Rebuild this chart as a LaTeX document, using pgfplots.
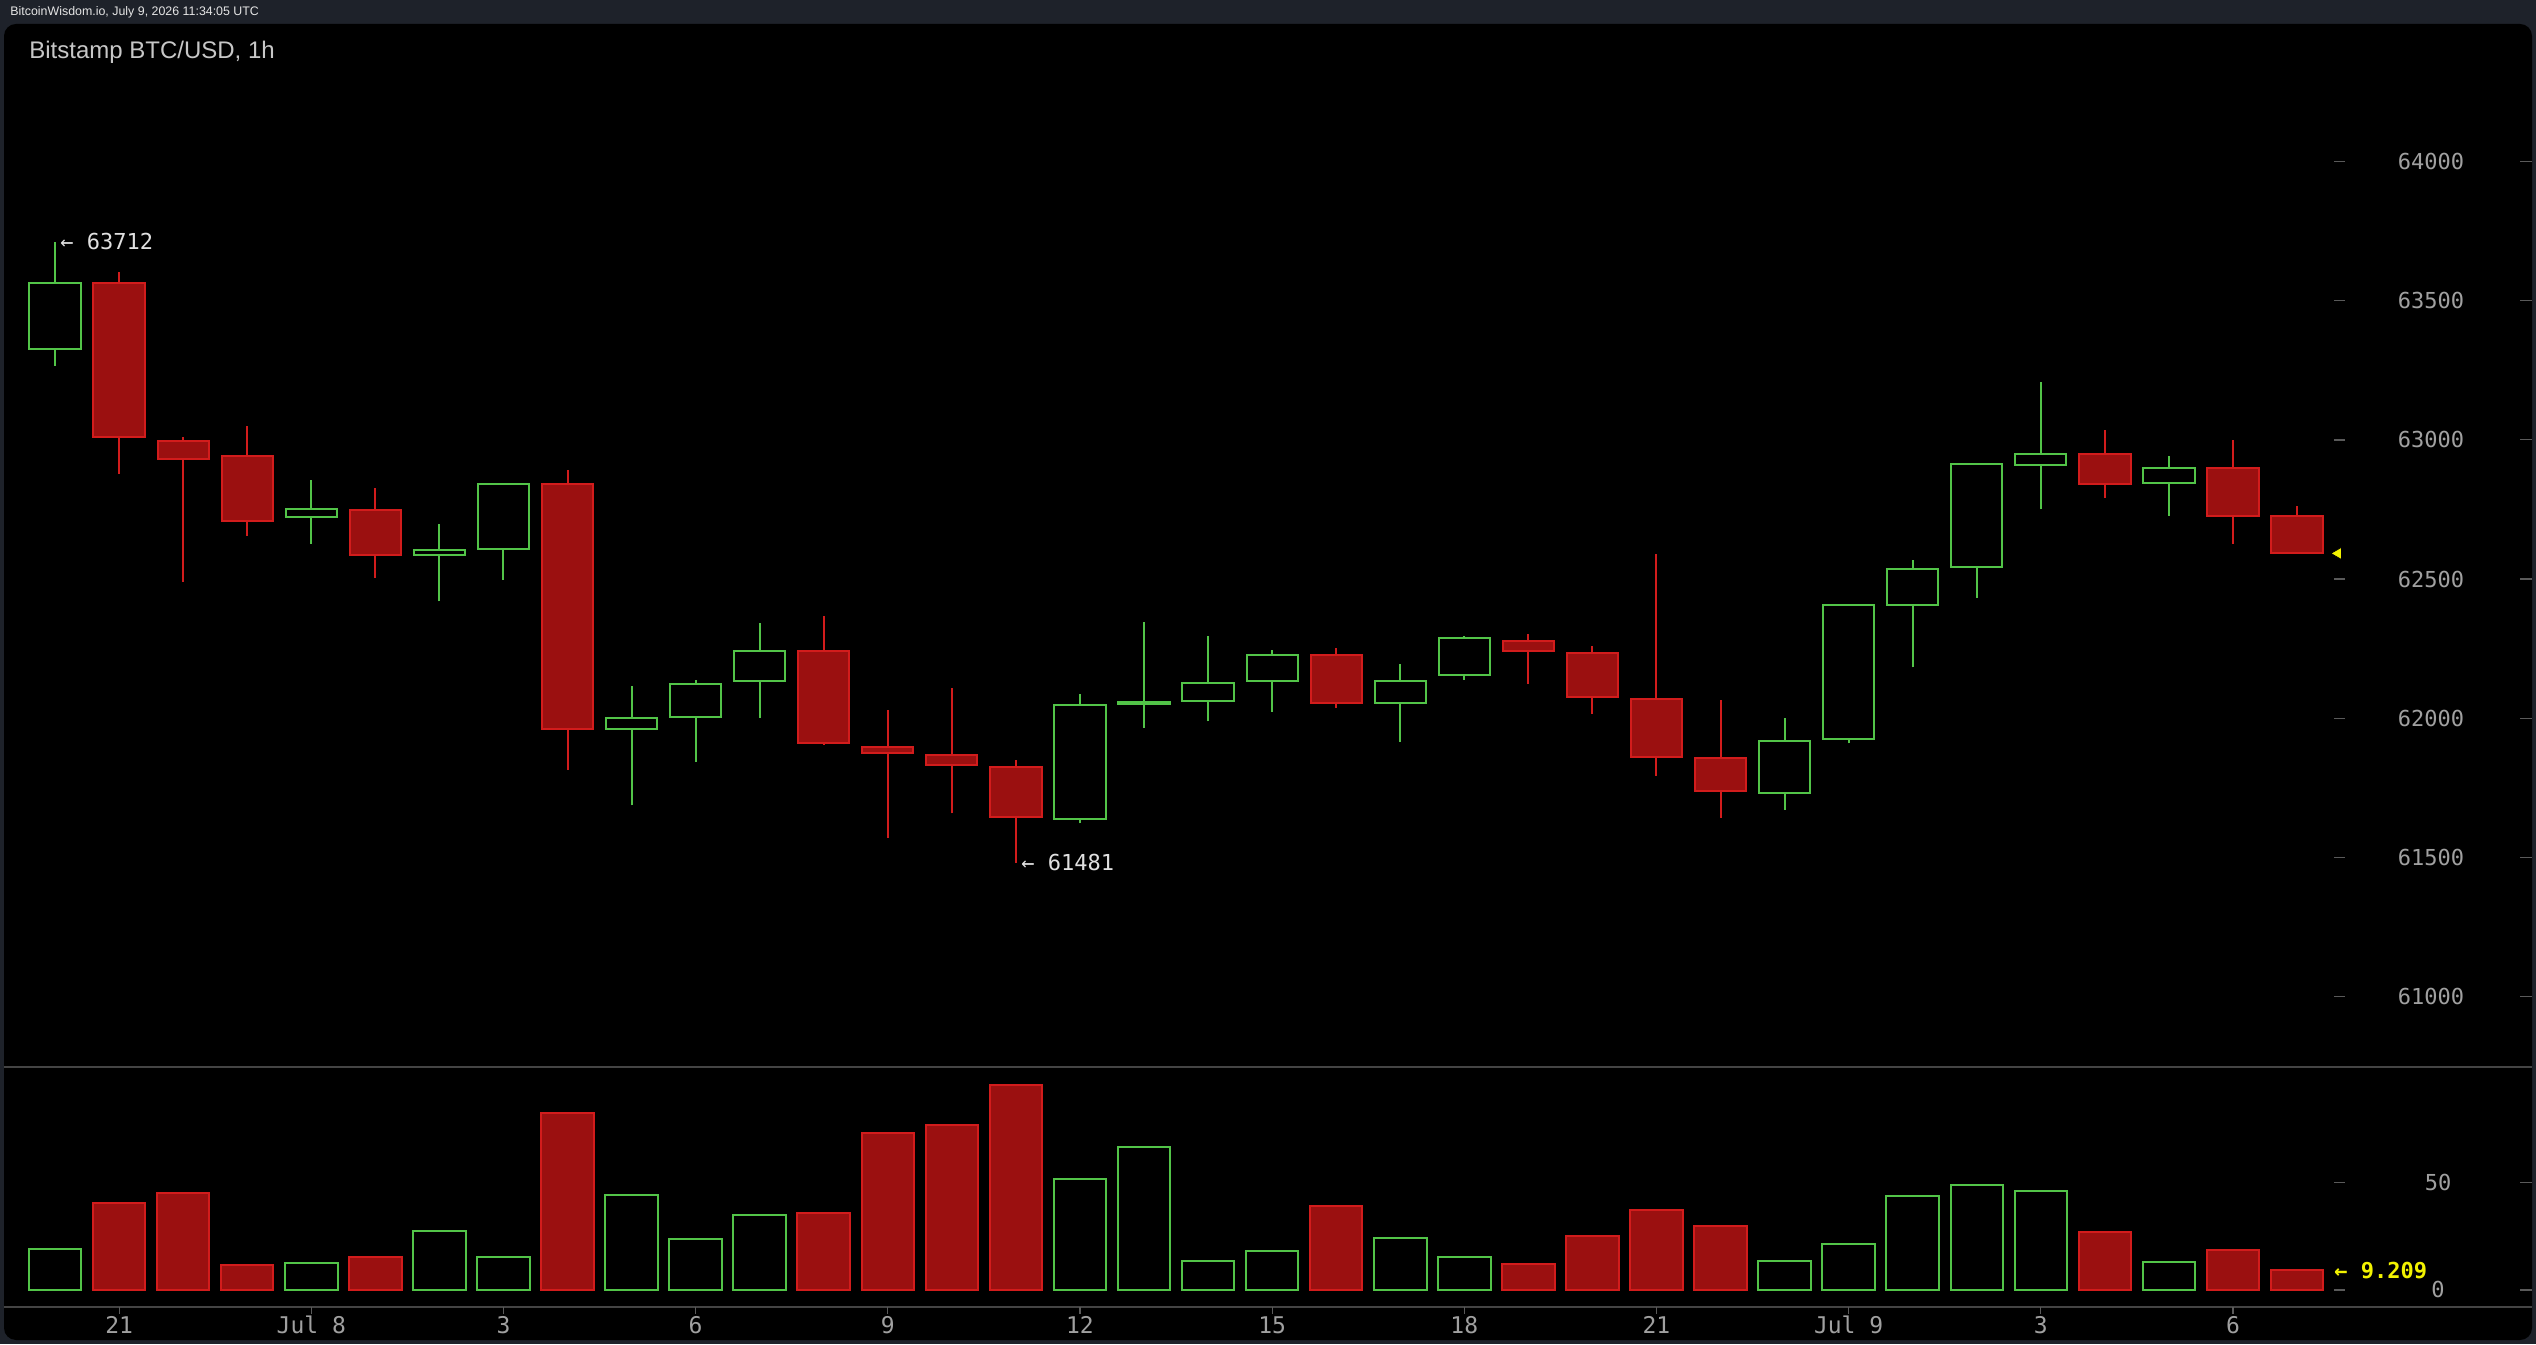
\documentclass[border=0pt]{standalone}
\usepackage{pgfplots}
\pgfplotsset{compat=1.18}
\usepackage{pgfplotstable}
\usepackage{fontspec}
\setmainfont{Liberation Sans}
\newfontfamily\mono{DejaVu Sans Mono}
\definecolor{outer}{HTML}{1E222A}
\definecolor{gcol}{HTML}{52C448}
\definecolor{rfill}{HTML}{9B1010}
\definecolor{rline}{HTML}{D21C1C}
\definecolor{lbl}{HTML}{A0A0A0}
\definecolor{tickc}{HTML}{5A5A5A}
\definecolor{sepc}{HTML}{444444}
\definecolor{ylw}{HTML}{F2F200}

\pgfplotstableread{
i o h l c v
0 63326 63712 63267 63565 18.9
4 62723 62856 62627 62753 12.5
6 62587 62697 62420 62603 27.3
7 62607 62840 62498 62840 15.2
9 61961 62115 61686 61999 44.0
10 62004 62137 61843 62121 23.5
11 62132 62343 62001 62242 34.9
16 61637 62086 61622 62048 51.4
17 62052 62345 61965 62057 66.3
18 62060 62295 61988 62127 13.3
19 62132 62244 62023 62228 18.0
21 62054 62194 61915 62134 23.9
22 62155 62295 62138 62287 15.5
27 61731 62000 61671 61919 13.6
28 61925 62408 61909 62408 21.2
29 62406 62567 62182 62537 43.5
30 62544 62912 62433 62912 48.9
31 62910 63208 62750 62950 46.2
33 62844 62942 62728 62898 12.9
}\greentab

\pgfplotstableread{
i o h l c v
1 63565 63604 62878 63010 40.4
2 62997 63012 62490 62932 45.1
3 62941 63050 62656 62708 11.6
5 62747 62827 62505 62587 15.3
8 62840 62891 61815 61961 82.2
12 62242 62367 61905 61909 35.8
13 61897 62029 61570 61873 73.0
14 61869 62107 61658 61831 76.7
15 61825 61849 61481 61643 95.3
20 62228 62252 62037 62054 38.9
23 62278 62302 62124 62240 11.9
24 62235 62259 62016 62075 24.9
25 62070 62590 61793 61859 37.0
26 61856 62064 61642 61737 29.6
32 62949 63035 62792 62843 26.8
34 62898 62999 62627 62728 18.4
35 62726 62763 62592 62592 9.209
}\redtab

\pgfplotsset{
  pricegeom/.style={scale only axis, width=1169pt, height=514.7pt,
    at={(3.5pt,139.05pt)}, anchor=south west,
    xmin=-0.75, xmax=35.75, ymin=60750, ymax=64450},
}

\begin{document}
\begin{tikzpicture}
\path[use as bounding box] (0,0) rectangle (1268pt,672pt);
\fill[outer] (0,0) rectangle (1268pt,672pt);
\fill[black, rounded corners=6pt] (2pt,2pt) rectangle (1266pt,660pt);
\node[anchor=west, inner sep=0, text=white!90!black] at (5pt,666pt)
  {\fontsize{6.2}{7}\selectfont BitcoinWisdom.io, July 9, 2026 11:34:05 UTC};
\node[anchor=west, inner sep=0, text=white!78!black] at (14.5pt,646pt)
  {\fontsize{12}{14}\selectfont Bitstamp BTC/USD, 1h};
\draw[sepc, line width=0.8pt] (2pt,138.5pt) -- (1266pt,138.5pt);
\draw[sepc, line width=0.8pt] (2pt,18.65pt) -- (1266pt,18.65pt);
\foreach \y in {173.83,243.38,312.94,382.49,452.05,521.60,591.16,27.04,80.84}
  \draw[tickc, line width=0.6pt] (1260pt,\y pt) -- (1266pt,\y pt);
\foreach \y in {27.04,80.84}
  \draw[tickc, line width=0.6pt] (1167pt,\y pt) -- (1172.5pt,\y pt);

% price axis: ticks, wicks, annotations
\begin{axis}[pricegeom, clip=false, axis line style={draw=none},
  xtick=\empty, ytick={61000,61500,62000,62500,63000,63500,64000},
  scaled y ticks=false,
  ytick pos=right, yticklabel pos=right, tick align=inside,
  major tick length=5.5pt, tick style={tickc, line width=0.6pt},
  /pgf/number format/assume math mode=true,
  /pgf/number format/1000 sep={},
  yticklabel style={anchor=center, xshift=43pt, text=lbl,
    font=\mono\fontsize{11}{13}\selectfont}]
\addplot[draw=none, forget plot, error bars/.cd, y dir=plus, y explicit,
  error mark=none, error bar style={draw=gcol, line width=1pt, solid}]
  table[x=i, y=l, y error plus expr=\thisrow{h}-\thisrow{l}] {\greentab};
\addplot[draw=none, forget plot, error bars/.cd, y dir=plus, y explicit,
  error mark=none, error bar style={draw=rline, line width=1pt, solid}]
  table[x=i, y=l, y error plus expr=\thisrow{h}-\thisrow{l}] {\redtab};
\addplot[only marks, mark=triangle*, mark size=3.6pt,
  mark options={fill=ylw, draw=none, rotate=90}] coordinates {(35.64,62592)};
\node[anchor=west, inner sep=0, text=white!88!black,
  font=\mono\fontsize{11}{13}\selectfont] at (axis cs:0,63712) {\hspace{2.5pt}← 63712};
\node[anchor=west, inner sep=0, text=white!88!black,
  font=\mono\fontsize{11}{13}\selectfont] at (axis cs:15,61481) {\hspace{2.5pt}← 61481};
\end{axis}

% green bodies
\begin{axis}[pricegeom, hide axis, ybar stacked, bar width=0.8]
\addplot[draw=none, fill=none] table[x=i, y=o] {\greentab};
\addplot[draw=gcol, fill=black, line width=1pt]
  table[x=i, y expr=\thisrow{c}-\thisrow{o}] {\greentab};
\end{axis}

% red bodies
\begin{axis}[pricegeom, hide axis, ybar stacked, bar width=0.8]
\addplot[draw=none, fill=none] table[x=i, y=c] {\redtab};
\addplot[draw=rline, fill=rfill, line width=1pt]
  table[x=i, y expr=\thisrow{o}-\thisrow{c}] {\redtab};
\end{axis}

% volume
\begin{axis}[scale only axis, width=1169pt, height=119.85pt,
  at={(3.5pt,18.65pt)}, anchor=south west,
  xmin=-0.75, xmax=35.75, ymin=-7.8, ymax=103.6, clip=false,
  axis line style={draw=none}, ybar, bar width=0.82,
  xtick={1,4,7,10,13,16,19,22,25,28,31,34},
  xticklabels={21,Jul 8,3,6,9,12,15,18,21,Jul 9,3,6},
  xtick pos=bottom, ytick={0,50}, ytick pos=right, yticklabel pos=right,
  scaled y ticks=false,
  tick align=outside, major tick length=3.5pt,
  xtick style={tickc, line width=0.6pt}, ytick style={draw=none},
  /pgf/number format/assume math mode=true,
  xticklabel style={anchor=center, yshift=-5.7pt, text=lbl,
    font=\mono\fontsize{11.5}{13}\selectfont},
  yticklabel style={anchor=center, xshift=43pt, text=lbl,
    font=\mono\fontsize{11}{13}\selectfont}]
\addplot[bar shift=0pt, draw=gcol, fill=black, line width=1pt]
  table[x=i, y=v] {\greentab};
\addplot[bar shift=0pt, draw=rline, fill=rfill, line width=1pt]
  table[x=i, y=v] {\redtab};
\node[anchor=west, inner sep=0, text=ylw,
  font=\mono\bfseries\fontsize{11}{13}\selectfont] at (axis cs:35.75,9.209)
  {\hspace{-5.5pt}← 9.209};
\end{axis}
\end{tikzpicture}
\end{document}
